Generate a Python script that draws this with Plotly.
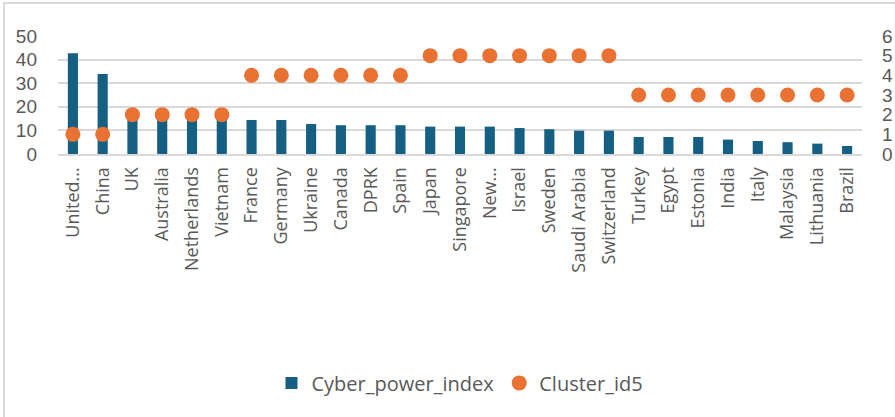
import plotly.graph_objects as go

# chart data
countries = [
    'United...', 'China', 'UK', 'Australia', 'Netherlands', 'Vietnam',
    'France', 'Germany', 'Ukraine', 'Canada', 'DPRK', 'Spain', 'Japan',
    'Singapore', 'New...', 'Israel', 'Sweden', 'Saudi Arabia',
    'Switzerland', 'Turkey', 'Egypt', 'Estonia', 'India', 'Italy',
    'Malaysia', 'Lithuania', 'Brazil'
]
cyber_power_index = [
    42.7, 33.9, 16.3, 16.0, 15.8, 15.5, 14.4, 14.4, 12.7, 12.2, 12.2, 12.2,
    11.6, 11.6, 11.6, 11.0, 10.5, 9.9, 9.9, 7.2, 7.2, 7.2, 6.1, 5.5, 5.0,
    4.4, 3.4
]
cluster_id5 = [1, 1, 2, 2, 2, 2, 4, 4, 4, 4, 4, 4, 5, 5, 5, 5, 5, 5, 5,
               3, 3, 3, 3, 3, 3, 3, 3]

BLUE = '#156082'
ORANGE = '#E97132'
GREY_TXT = '#595959'
GRID = '#D9D9D9'

fig = go.Figure()
fig.add_trace(go.Bar(
    x=countries, y=cyber_power_index, name='Cyber_power_index',
    marker=dict(color=BLUE, line=dict(width=0)),
))
fig.add_trace(go.Scatter(
    x=countries, y=cluster_id5, name='Cluster_id5', yaxis='y2',
    mode='markers', marker=dict(color=ORANGE, size=15),
))

fig.update_layout(
    width=895, height=417,
    margin=dict(l=58, r=33, t=36, b=263, autoexpand=False),
    plot_bgcolor='white', paper_bgcolor='white',
    bargap=0.66,
    font=dict(family='Open Sans, sans-serif', color=GREY_TXT),
    xaxis=dict(
        range=[-0.5, len(countries) - 0.5],
        tickangle=-90, tickfont=dict(size=18, family='Open Sans'),
        showgrid=False, showline=True, linecolor=GRID, linewidth=2,
        ticks='', ticklabelstandoff=4, automargin=False,
    ),
    yaxis=dict(
        range=[0, 50], dtick=10, showgrid=True, gridcolor=GRID, gridwidth=2,
        zeroline=False, tickfont=dict(size=19, family='Liberation Sans'),
        ticklabelstandoff=20, automargin=False,
    ),
    yaxis2=dict(
        range=[0, 6], dtick=1, overlaying='y', side='right', showgrid=False,
        zeroline=False, tickfont=dict(size=19, family='Liberation Sans'),
        ticklabelstandoff=19, automargin=False,
    ),
    legend=dict(
        orientation='h', x=0.5, xanchor='center', y=-1.94, yanchor='middle',
        font=dict(size=20, family='Open Sans', color=GREY_TXT),
        itemwidth=30,
    ),
    # chart-area frame, only its top and left edges fall inside the picture
    shapes=[dict(
        type='rect', xref='paper', yref='paper',
        x0=-0.0672, x1=1.3, y0=-3.0, y1=1.28,
        line=dict(color=GRID, width=2), layer='below',
    )],
)

# drop the default 8px page margin so the figure sits at the window corner
fig.write_html('out.html', config={'displayModeBar': False},
               post_script="document.body.style.margin='0';")
